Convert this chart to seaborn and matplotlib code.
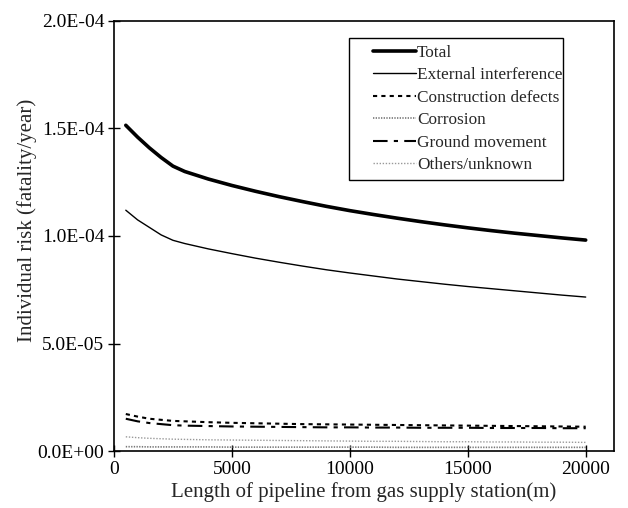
import matplotlib
matplotlib.use("Agg")
import matplotlib.pyplot as plt
from matplotlib.ticker import FuncFormatter
from matplotlib.patches import Rectangle
import seaborn as sns
import pandas as pd

distance = [500, 1000, 1500, 2000, 2500, 3000, 4000, 5000, 6000, 7000, 8000, 9000,
            10000, 11000, 12000, 13000, 14000, 15000, 16000, 17000, 18000, 19000, 20000]

total = [1.515e-4, 1.46e-4, 1.41e-4, 1.365e-4, 1.325e-4, 1.30e-4, 1.265e-4, 1.235e-4,
         1.208e-4, 1.183e-4, 1.160e-4, 1.138e-4, 1.118e-4, 1.100e-4, 1.083e-4, 1.067e-4,
         1.052e-4, 1.038e-4, 1.025e-4, 1.013e-4, 1.002e-4, 0.991e-4, 0.981e-4]
external = [1.12e-4, 1.075e-4, 1.04e-4, 1.005e-4, 0.98e-4, 0.965e-4, 0.94e-4, 0.918e-4,
            0.897e-4, 0.878e-4, 0.860e-4, 0.843e-4, 0.828e-4, 0.814e-4, 0.800e-4, 0.788e-4,
            0.776e-4, 0.765e-4, 0.755e-4, 0.745e-4, 0.735e-4, 0.725e-4, 0.716e-4]
construction = [1.72e-5, 1.6e-5, 1.5e-5, 1.45e-5, 1.4e-5, 1.38e-5, 1.34e-5, 1.31e-5,
                1.29e-5, 1.27e-5, 1.25e-5, 1.24e-5, 1.23e-5, 1.22e-5, 1.21e-5, 1.20e-5,
                1.19e-5, 1.18e-5, 1.17e-5, 1.16e-5, 1.15e-5, 1.14e-5, 1.13e-5]
corrosion = [0.20e-5, 0.20e-5, 0.19e-5, 0.19e-5, 0.19e-5, 0.19e-5, 0.19e-5, 0.18e-5,
             0.18e-5, 0.18e-5, 0.18e-5, 0.18e-5, 0.18e-5, 0.18e-5, 0.17e-5, 0.17e-5,
             0.17e-5, 0.17e-5, 0.17e-5, 0.17e-5, 0.17e-5, 0.17e-5, 0.17e-5]
ground = [1.5e-5, 1.38e-5, 1.3e-5, 1.25e-5, 1.2e-5, 1.18e-5, 1.16e-5, 1.14e-5,
          1.13e-5, 1.12e-5, 1.11e-5, 1.10e-5, 1.10e-5, 1.09e-5, 1.09e-5, 1.08e-5,
          1.08e-5, 1.08e-5, 1.07e-5, 1.07e-5, 1.07e-5, 1.06e-5, 1.06e-5]
others = [0.66e-5, 0.62e-5, 0.59e-5, 0.57e-5, 0.55e-5, 0.54e-5, 0.52e-5, 0.51e-5,
          0.50e-5, 0.49e-5, 0.48e-5, 0.47e-5, 0.46e-5, 0.45e-5, 0.45e-5, 0.44e-5,
          0.43e-5, 0.43e-5, 0.42e-5, 0.42e-5, 0.41e-5, 0.41e-5, 0.40e-5]

labels = ["Total", "External interference", "Construction defects", "Corrosion",
          "Ground movement", "Others/unknown"]
series = [total, external, construction, corrosion, ground, others]

x_ticks = [0, 5000, 10000, 15000, 20000]
y_ticks = [0.0, 5e-5, 1e-4, 1.5e-4, 2e-4]

sns.set_style("ticks")
plt.rcParams["font.family"] = ["Liberation Serif", "DejaVu Serif"]

styles = [
    dict(color="black", lw=2.6, linestyle="-"),
    dict(color="black", lw=1.0, linestyle="-"),
    dict(color="black", lw=1.5, linestyle=(0, (2, 2))),
    dict(color="#777777", lw=1.2, linestyle=(0, (0.8, 0.8))),
    dict(color="black", lw=1.5, linestyle=(0, (7, 3, 2, 3))),
    dict(color="#999999", lw=1.0, linestyle=(0, (1, 1.2))),
]

W, H = 628, 508
fig = plt.figure(figsize=(W / 100, H / 100), dpi=100)
ax = fig.add_axes([114 / W, 1 - 451 / H, 500 / W, 430 / H])

for lab, vals, st in zip(labels, series, styles):
    df = pd.DataFrame({"distance": distance, "risk": vals})
    sns.lineplot(data=df, x="distance", y="risk", ax=ax, label=lab, **st)

ax.set_xlim(0, 21200)
ax.set_ylim(0, 2e-4)
ax.set_xticks(x_ticks)
ax.set_yticks(y_ticks)
ax.yaxis.set_major_formatter(FuncFormatter(lambda v, p: f"{v:.1E}"))
ax.tick_params(axis="both", direction="inout", length=8, width=1, labelsize=14,
               colors="black", pad=3)
for sp in ax.spines.values():
    sp.set_linewidth(1.2)
    sp.set_color("black")

ax.set_xlabel("Length of pipeline from gas supply station(m)", fontsize=15, labelpad=3)
ax.set_ylabel("Individual risk (fatality/year)", fontsize=15)
ax.yaxis.set_label_coords(-0.154, 0.537)

leg = ax.legend(loc="upper left", bbox_to_anchor=(373 / W, 1 - 45 / H),
                bbox_transform=fig.transFigure, fontsize=12.4, frameon=False,
                handlelength=2.5, handletextpad=0.05, labelspacing=0.37,
                borderpad=0, borderaxespad=0)
fig.add_artist(Rectangle((349 / W, 1 - 180 / H), 214 / W, 142 / H,
                         transform=fig.transFigure, fill=False,
                         edgecolor="black", linewidth=1.0))

fig.savefig("out.png", dpi=100)
